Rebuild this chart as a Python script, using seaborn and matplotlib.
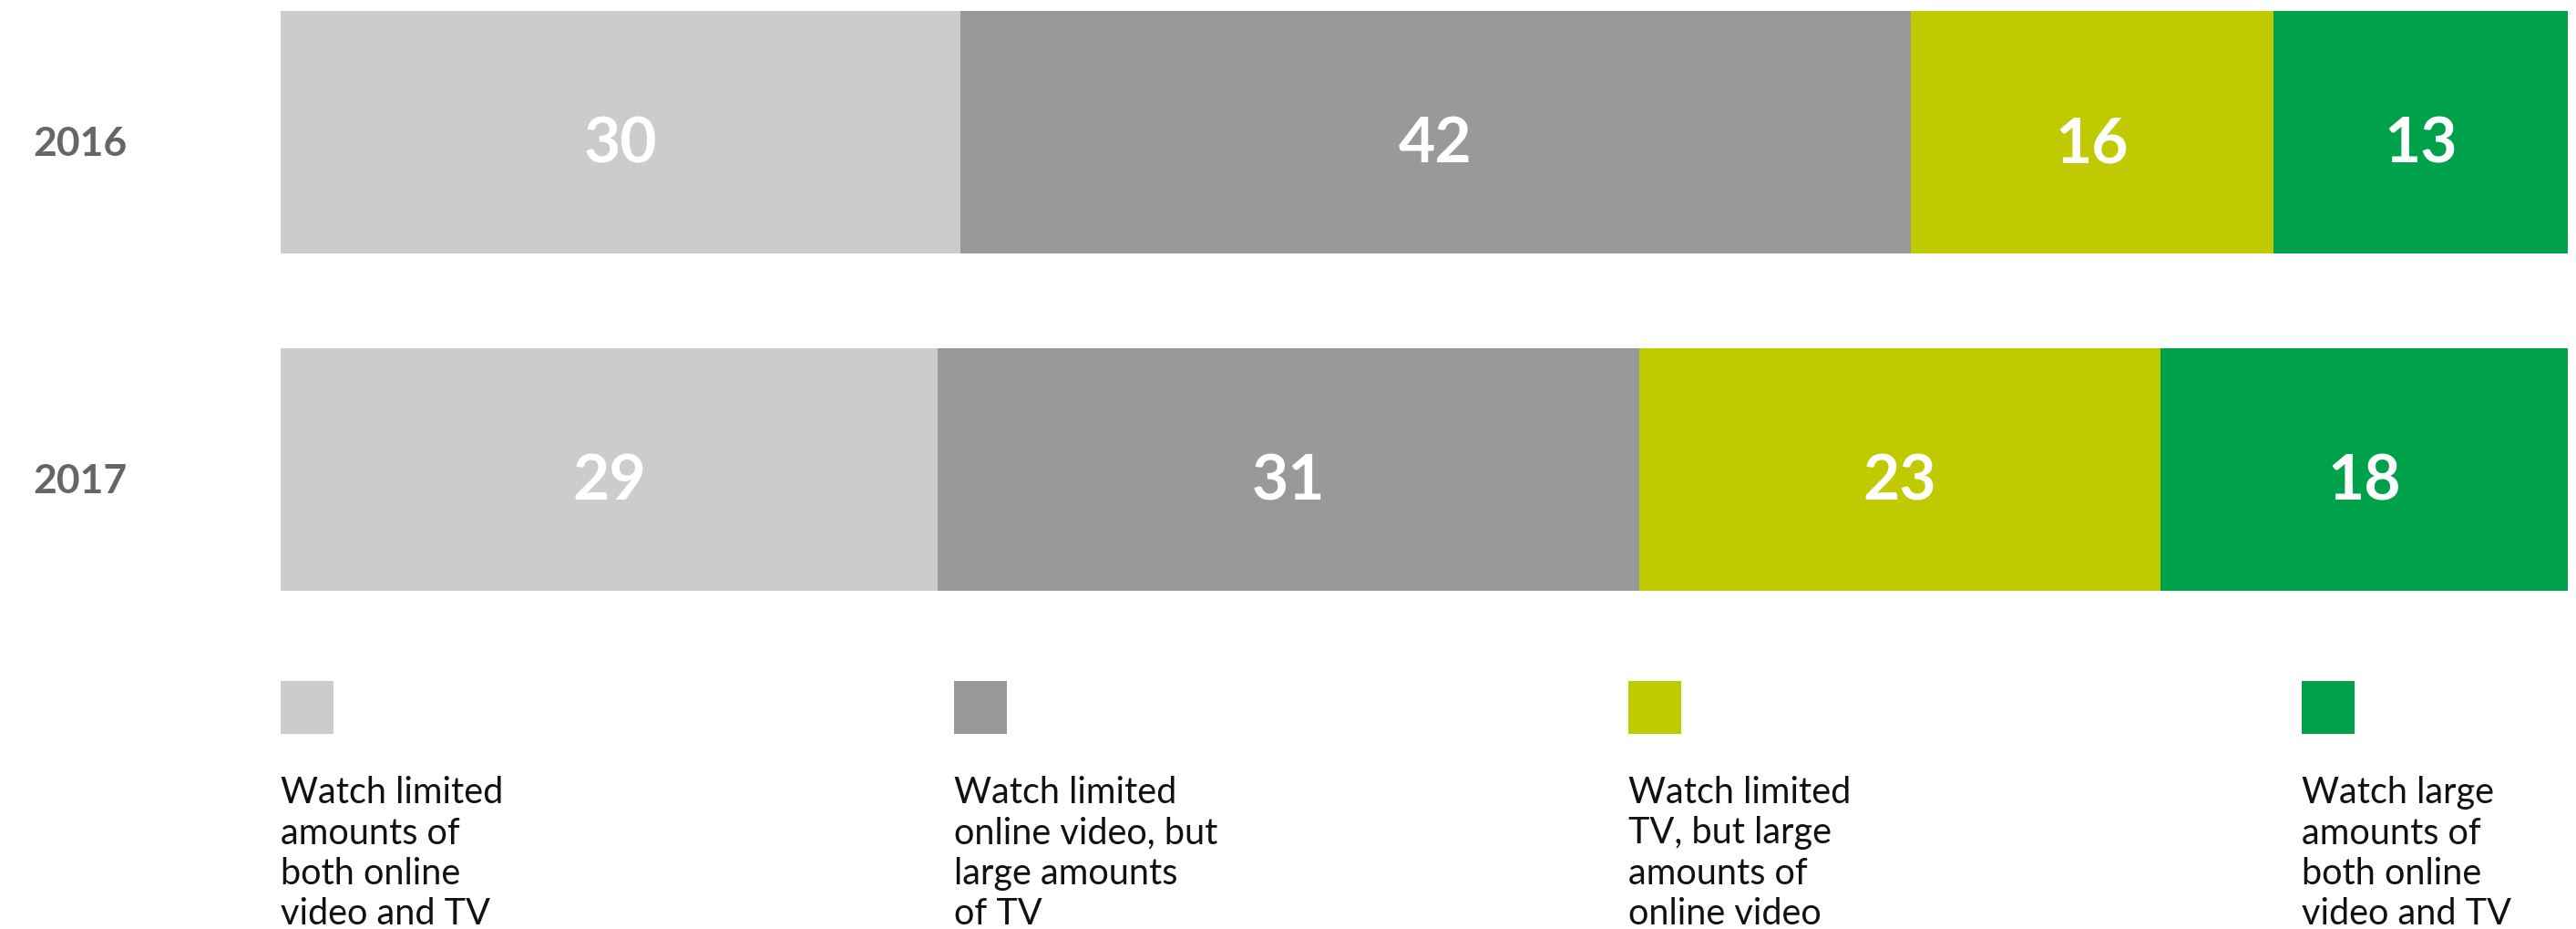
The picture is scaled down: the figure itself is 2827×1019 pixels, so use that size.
import matplotlib
matplotlib.use("Agg")
import matplotlib.pyplot as plt
import matplotlib.transforms as mtransforms
import seaborn as sns
import pandas as pd
import numpy as np
from matplotlib.patches import Rectangle

years = ["2016", "2017"]
segments = [
    "Watch limited\namounts of\nboth online\nvideo and TV",
    "Watch limited\nonline video, but\nlarge amounts\nof TV",
    "Watch limited\nTV, but large\namounts of\nonline video",
    "Watch large\namounts of\nboth online\nvideo and TV",
]
values_2016 = [30, 42, 16, 13]
values_2017 = [29, 31, 23, 18]
colors = ["#CCCCCC", "#999999", "#BFCA00", "#00A14B"]

sns.set_theme(style="white")
plt.rcParams["font.family"] = ["Lato", "DejaVu Sans"]

W, H = 2827, 1020
fig = plt.figure(figsize=(W / 100, H / 100), dpi=100)
ax = fig.add_axes([308 / W, 1 - 649 / H, (2818 - 308) / W, (649 - 12.6) / H])

vals = np.array([values_2016, values_2017], dtype=float)
cum = np.cumsum(vals, axis=1)

# stacked bars: draw cumulative totals from the outermost segment inwards
for k in range(len(segments) - 1, -1, -1):
    df = pd.DataFrame({"year": years, "total": cum[:, k]})
    sns.barplot(data=df, y="year", x="total", orient="h", color=colors[k],
                width=0.72, saturation=1, linewidth=0, ax=ax)

year_tf = mtransforms.blended_transform_factory(fig.transFigure, ax.transData)
for i in range(len(years)):
    for k in range(len(segments)):
        left = cum[i, k] - vals[i, k]
        ax.text(left + vals[i, k] / 2, i + 0.088, f"{int(vals[i, k])}",
                ha="center", va="baseline", color="white", fontsize=50,
                fontweight="bold")
    ax.text(36 / W, i + 0.068, years[i], transform=year_tf, ha="left",
            va="baseline", color="#666666", fontsize=32, fontweight="bold")

ax.set_xlim(0, cum[:, -1].max())
ax.set_ylim(1.36, -0.36)
ax.set_axis_off()

# legend swatches and descriptions
leg_x = [308, 1047, 1787, 2526]
for k, lx in enumerate(leg_x):
    fig.add_artist(Rectangle((lx / W, 1 - 806 / H), 58 / W, 58 / H,
                             transform=fig.transFigure, facecolor=colors[k],
                             edgecolor="none"))
    fig.text(lx / W, 1 - 851 / H, segments[k], ha="left", va="top",
             fontsize=28.5, color="#111111", linespacing=1.25)

fig.savefig("out.png", dpi=100, facecolor="white")
